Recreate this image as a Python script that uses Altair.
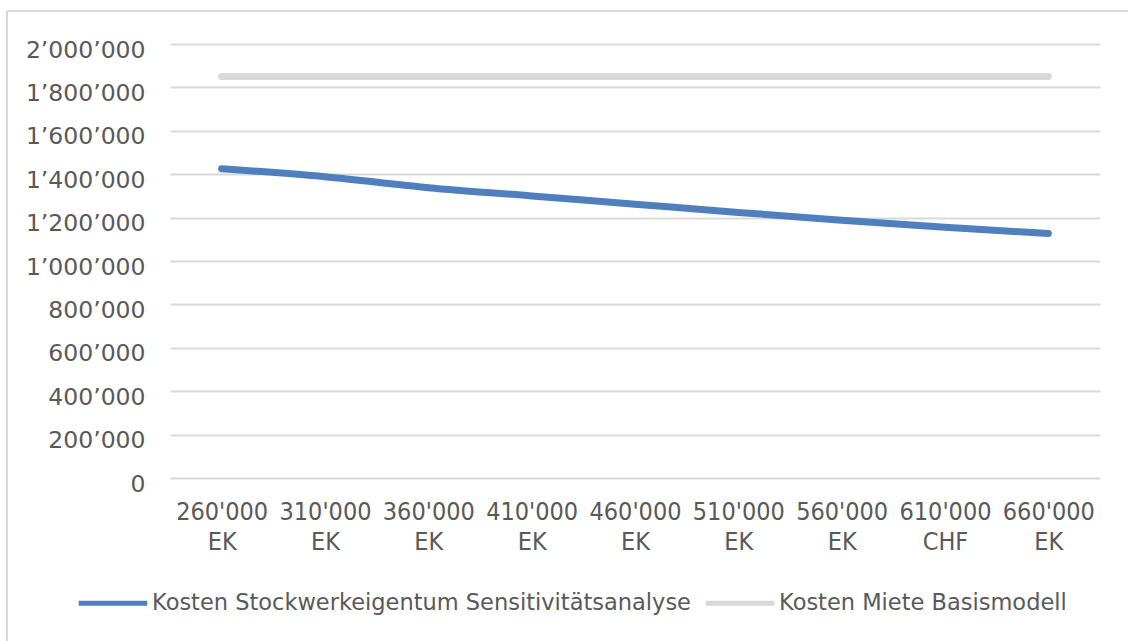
import altair as alt
import pandas as pd

# Equity amounts (x categories) and their unit suffix
amounts = ["260'000", "310'000", "360'000", "410'000", "460'000",
           "510'000", "560'000", "610'000", "660'000"]
units = ["EK", "EK", "EK", "EK", "EK", "EK", "EK", "CHF", "EK"]

# Cost series
series_owner = "Kosten Stockwerkeigentum Sensitivitätsanalyse"
series_rent = "Kosten Miete Basismodell"
owner_costs = [1425000, 1388000, 1338000, 1300000, 1262000,
               1224000, 1188000, 1155000, 1127000]
rent_costs = [1850000, 1850000, 1850000, 1850000, 1850000,
              1850000, 1850000, 1850000, 1850000]

y_ticks = [0, 200000, 400000, 600000, 800000, 1000000,
           1200000, 1400000, 1600000, 1800000, 2000000]

categories = [f"{a}|{u}" for a, u in zip(amounts, units)]

rows = []
for cat, v in zip(categories, owner_costs):
    rows.append({"Kategorie": cat, "Serie": series_owner, "Kosten": v})
for cat, v in zip(categories, rent_costs):
    rows.append({"Kategorie": cat, "Serie": series_rent, "Kosten": v})
df = pd.DataFrame(rows)

BLUE = "#4f7fbd"
GREY = "#d9d9d9"
TEXT = "#595959"

lines = alt.Chart(df).mark_line(
    strokeWidth=7, interpolate="monotone", strokeCap="round"
).encode(
    x=alt.X(
        "Kategorie:N",
        sort=categories,
        scale=alt.Scale(type="point", padding=0.5),
        axis=alt.Axis(
            title=None,
            labelExpr="split(datum.value, '|')",
            labelAngle=0,
            labelFont="DejaVu Sans Condensed",
            labelFontSize=25,
            labelColor=TEXT,
            labelLineHeight=30,
            labelPadding=21,
            ticks=False,
            domain=False,
            grid=False,
        ),
    ),
    y=alt.Y(
        "Kosten:Q",
        scale=alt.Scale(domain=[0, 2000000], nice=False),
        axis=alt.Axis(
            title=None,
            values=y_ticks,
            labelExpr="replace(format(datum.value, ','), regexp(',', 'g'), '\u2019')",
            labelFont="DejaVu Sans",
            labelFontSize=23.5,
            labelColor=TEXT,
            labelPadding=25,
            labelOffset=6,
            ticks=False,
            domain=False,
            grid=True,
            gridColor=GREY,
            gridWidth=2,
        ),
    ),
    color=alt.Color(
        "Serie:N",
        scale=alt.Scale(domain=[series_owner, series_rent], range=[BLUE, GREY]),
        legend=alt.Legend(
            title=None,
            orient="none",
            direction="horizontal",
            legendX=-94,
            legendY=522,
            symbolType="stroke",
            symbolSize=4700,
            symbolStrokeWidth=5,
            labelFont="DejaVu Sans",
            labelFontSize=22.5,
            labelColor=TEXT,
            labelOffset=2,
            columnPadding=4,
            labelLimit=0,
        ),
    ),
    order=alt.Order("Serie:N", sort="descending"),
)

# Light frame around the chart (left and top edges)
frame_left = alt.Chart(df).mark_rule(color=GREY, strokeWidth=2, clip=False).encode(
    x=alt.value(-163), y=alt.value(-33), y2=alt.value(600)
)
frame_top = alt.Chart(df).mark_rule(color=GREY, strokeWidth=2, clip=False).encode(
    x=alt.value(-163), x2=alt.value(960), y=alt.value(-33)
)

chart = alt.layer(frame_left, frame_top, lines).properties(
    width=930,
    height=434,
    autosize=alt.AutoSizeParams(type="none"),
    padding={"left": 170, "top": 44, "right": 28, "bottom": 163},
    background="white",
).configure_view(stroke=None)

chart.save("out.html", embed_options={"renderer": "svg", "actions": False})
